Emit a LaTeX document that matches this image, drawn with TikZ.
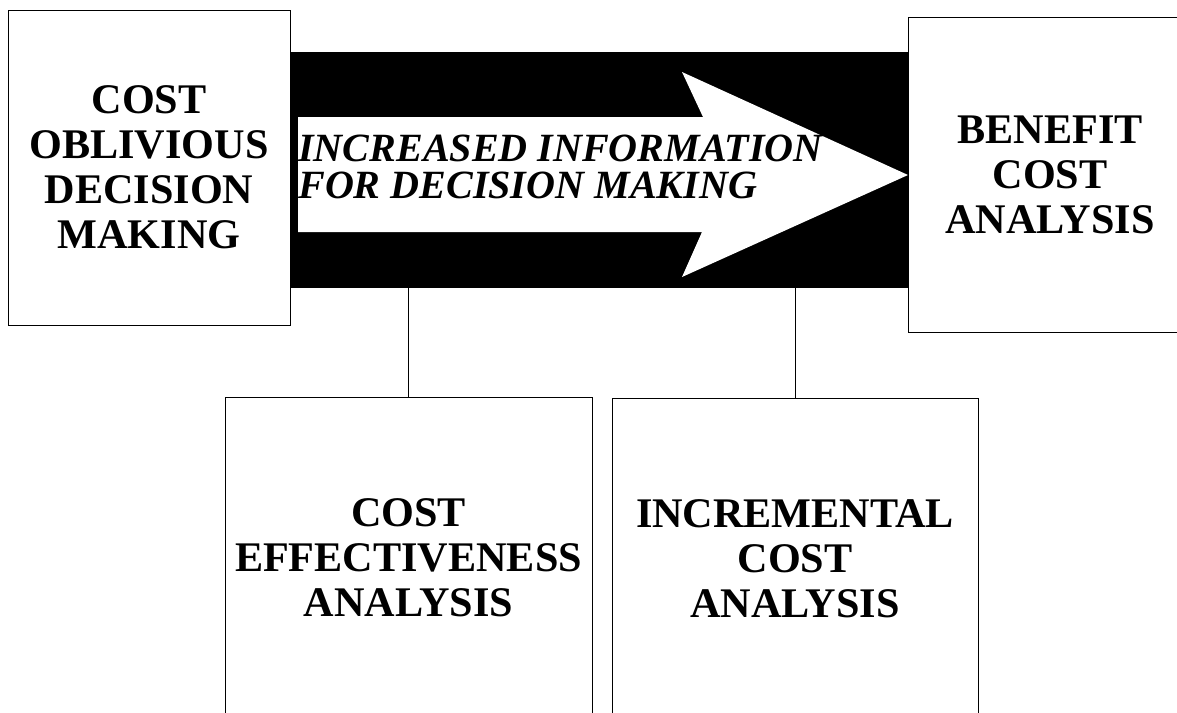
\documentclass[tikz,border=0pt]{standalone}
\usepackage{fontspec}
\setmainfont{Liberation Serif}
\begin{document}
\begin{tikzpicture}[x=0.025cm,y=-0.025cm]
			\tikzstyle{box} = [draw=black, line width=0.6pt, fill=white, inner sep=0, align=center, font=\fontsize{30}{32}\selectfont\bfseries]
			\tikzstyle{band} = [fill=black, inner sep=0, outer sep=0, minimum width=15.45cm, minimum height=5.9cm]
			\tikzstyle{arrowtext} = [inner sep=0, align=left, font=\fontsize{28.5}{26.5}\selectfont\bfseries\itshape]
			\tikzstyle{link} = [line width=0.6pt]
			\useasboundingbox (0,0) rectangle (1177,712);
			\clip (0,0) rectangle (1177,712);
			\node [band] (v2) at (599,170) {};
			\fill [white] (298,117) -- (703,117) -- (682,72) -- (908,175) -- (682,277) -- (702,232) -- (298,232) -- cycle;
			\node [arrowtext, anchor=west] (v3) at (298,167) {INCREASED INFORMATION\\FOR DECISION MAKING};
			\node [box, minimum width=7.05cm, minimum height=7.875cm] (v1) at (149,167.5) {COST\\OBLIVIOUS\\DECISION\\MAKING};
			\node [box, minimum width=7.1cm, minimum height=7.875cm] (v6) at (1050,174.5) {BENEFIT\\COST\\ANALYSIS};
			\node [box, minimum width=9.175cm, minimum height=8.05cm] (v4) at (408.5,558) {COST\\EFFECTIVENESS\\ANALYSIS};
			\node [box, minimum width=9.15cm, minimum height=8.05cm] (v5) at (795,559) {INCREMENTAL\\COST\\ANALYSIS};
			\draw [link] (v2.south -| v4.north) -- (v4.north);
			\draw [link] (v2.south -| v5.north) -- (v5.north);
\end{tikzpicture}
\end{document}
